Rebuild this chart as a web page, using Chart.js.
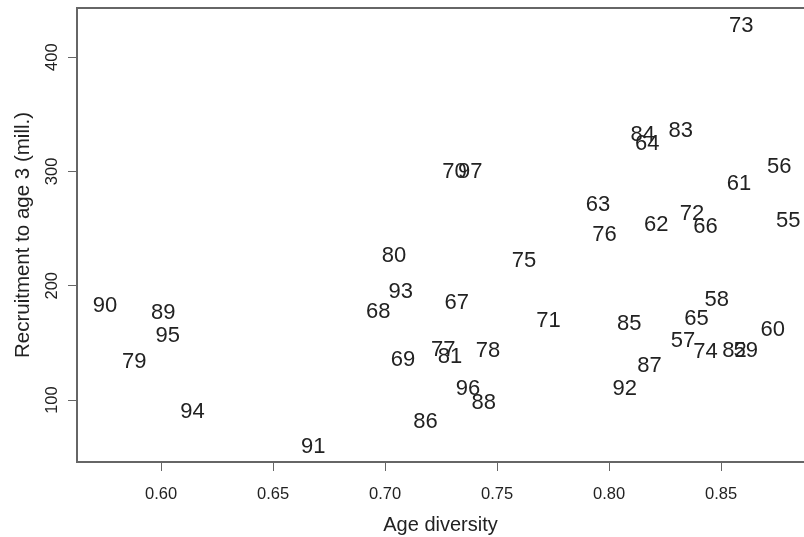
<!DOCTYPE html>
<html>
<head>
<meta charset="utf-8">
<script src="https://cdn.jsdelivr.net/npm/chart.js@4.4.0/dist/chart.umd.min.js"></script>
<style>
    html, body { margin: 0; padding: 0; background: #fff; }
    #wrap { width: 804px; height: 537px; }
</style>
</head>
<body>
<div id="wrap"><canvas id="chart" width="804" height="537"></canvas></div>
<script>
// Year class labels (19xx)
const years = [55, 56, 57, 58, 59, 60, 61, 62, 63, 64, 65, 66, 67, 68, 69,
    70, 71, 72, 73, 74, 75, 76, 77, 78, 79, 80, 81, 82, 83, 84, 85, 86,
    87, 88, 89, 90, 91, 92, 93, 94, 95, 96, 97];

// Age diversity of the spawning stock
const diversity = [0.880, 0.876, 0.833, 0.848, 0.861, 0.873, 0.858, 0.821, 0.795, 0.817, 0.839, 0.843, 0.732, 0.697, 0.708,
    0.731, 0.773, 0.837, 0.859, 0.843, 0.762, 0.798, 0.726, 0.746, 0.588, 0.704, 0.729, 0.856, 0.832, 0.815, 0.809, 0.718,
    0.818, 0.744, 0.601, 0.575, 0.668, 0.807, 0.707, 0.614, 0.603, 0.737, 0.738];

// Recruitment to age 3 (millions)
const recruitment = [258.6, 305.9, 152.9, 189.5, 144.2, 162.7, 290.5, 254.6, 272.1, 326.0, 172.9, 253.1, 186.3, 178.3, 137.0,
    301.2, 170.4, 264.7, 429.1, 144.0, 223.6, 245.8, 145.5, 144.2, 135.0, 227.5, 139.4, 144.2, 336.8, 333.6, 168.5, 82.5,
    131.7, 98.9, 177.6, 184.2, 60.9, 111.2, 195.8, 90.8, 157.9, 111.6, 301.0];

const xTicks = [0.60, 0.65, 0.70, 0.75, 0.80, 0.85];
const yTicks = [100, 200, 300, 400];

const FONT = '"Liberation Sans", Arial, Helvetica, sans-serif';
const TEXT = '#222';
const AXIS = '#666';

// Draw the year labels centred on each point, like R's text()
const yearLabels = {
    id: 'yearLabels',
    afterDatasetsDraw(chart) {
        const ctx = chart.ctx;
        const meta = chart.getDatasetMeta(0);
        const size = 22;
        ctx.save();
        ctx.font = size + 'px ' + FONT;
        ctx.fillStyle = TEXT;
        ctx.textAlign = 'center';
        ctx.textBaseline = 'alphabetic';
        meta.data.forEach((pt, i) => {
            ctx.fillText(String(years[i]), pt.x, pt.y + size * 0.358);
        });
        ctx.restore();
    }
};

// Top edge of the plot box (right edge falls outside the picture)
const frameTop = {
    id: 'frameTop',
    afterDraw(chart) {
        const { ctx, chartArea } = chart;
        ctx.save();
        ctx.strokeStyle = AXIS;
        ctx.lineWidth = 2;
        ctx.beginPath();
        ctx.moveTo(chartArea.left, chartArea.top);
        ctx.lineTo(chartArea.right, chartArea.top);
        ctx.stroke();
        ctx.restore();
    }
};

const points = diversity.map((d, i) => ({ x: d, y: recruitment[i] }));

new Chart(document.getElementById('chart'), {
    type: 'scatter',
    data: {
        datasets: [{
            label: 'Recruitment',
            data: points,
            pointRadius: 0,
            pointHoverRadius: 0,
            clip: false
        }]
    },
    options: {
        responsive: false,
        animation: false,
        events: [],
        layout: { padding: { top: 8, right: 0, bottom: 0, left: 0 } },
        plugins: {
            legend: { display: false },
            tooltip: { enabled: false }
        },
        scales: {
            x: {
                type: 'linear',
                position: 'bottom',
                min: 0.5625,
                max: 0.887,
                afterFit: s => {
                    s.height = 75;
                    s.paddingLeft = 0;
                    s.paddingRight = 0;
                },
                afterBuildTicks: s => { s.ticks = xTicks.map(v => ({ value: v })); },
                grid: {
                    drawOnChartArea: false,
                    drawTicks: true,
                    tickLength: 9,
                    tickColor: AXIS,
                    tickWidth: 1
                },
                border: { display: true, color: AXIS, width: 2 },
                ticks: {
                    color: TEXT,
                    font: { family: FONT, size: 16.5 },
                    padding: 14,
                    maxRotation: 0,
                    callback: v => v.toFixed(2)
                },
                title: {
                    display: true,
                    text: 'Age diversity',
                    color: TEXT,
                    font: { family: FONT, size: 20 },
                    padding: { top: 0, bottom: 0 }
                }
            },
            y: {
                type: 'linear',
                position: 'left',
                min: 45.8,
                max: 443,
                afterFit: s => {
                    s.width = 77;
                    s.paddingTop = 0;
                    s.paddingBottom = 0;
                },
                afterBuildTicks: s => { s.ticks = yTicks.map(v => ({ value: v })); },
                grid: {
                    drawOnChartArea: false,
                    drawTicks: true,
                    tickLength: 9,
                    tickColor: AXIS,
                    tickWidth: 1
                },
                border: { display: true, color: AXIS, width: 2 },
                ticks: {
                    color: TEXT,
                    font: { family: FONT, size: 16.5 },
                    padding: 2,
                    minRotation: 90,
                    maxRotation: 90,
                    crossAlign: 'center',
                    callback: v => String(v)
                },
                title: {
                    display: true,
                    text: 'Recruitment to age 3 (mill.)',
                    color: TEXT,
                    font: { family: FONT, size: 20.5 },
                    padding: { top: 11, bottom: 0 }
                }
            }
        }
    },
    plugins: [yearLabels, frameTop]
});
</script>
</body>
</html>
